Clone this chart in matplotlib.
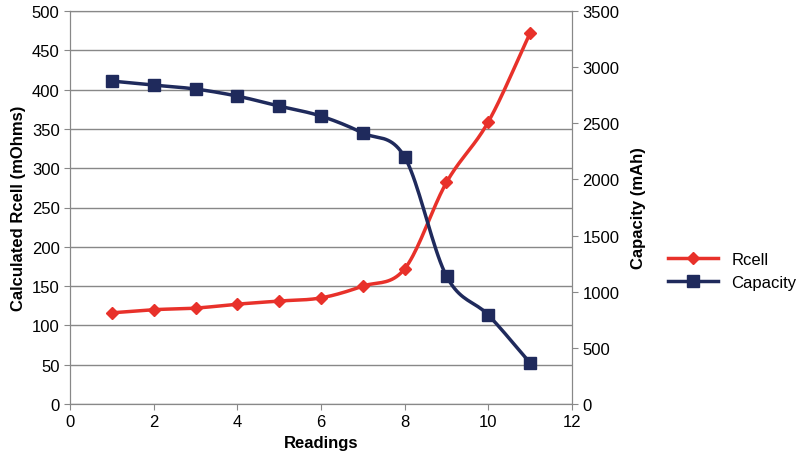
import numpy as np
import matplotlib
matplotlib.use("Agg")
import matplotlib.pyplot as plt
plt.rcParams['font.family'] = ['Liberation Sans', 'DejaVu Sans']

readings = [1, 2, 3, 4, 5, 6, 7, 8, 9, 10, 11]
rcell = [116, 120, 122, 127, 131, 135, 150, 172, 282, 359, 472]
capacity = [2876, 2840, 2805, 2742, 2653, 2564, 2413, 2199, 1139, 792, 365]

def smooth(x, y, n=20):
    x = np.asarray(x, float); y = np.asarray(y, float)
    px = np.concatenate([[2*x[0]-x[1]], x, [2*x[-1]-x[-2]]])
    py = np.concatenate([[2*y[0]-y[1]], y, [2*y[-1]-y[-2]]])
    xs, ys = [], []
    t = np.linspace(0, 1, n, endpoint=False)
    for i in range(1, len(px)-2):
        for P, out in ((px, xs), (py, ys)):
            p0, p1, p2, p3 = P[i-1], P[i], P[i+1], P[i+2]
            out.extend(0.5*((2*p1) + (-p0+p2)*t + (2*p0-5*p1+4*p2-p3)*t**2 + (-p0+3*p1-3*p2+p3)*t**3))
    xs.append(x[-1]); ys.append(y[-1])
    return np.array(xs), np.array(ys)

fig = plt.figure(figsize=(8, 4.64), dpi=100)
ax = fig.add_axes([70/800, 1-405/464, 502/800, 393/464])
ax2 = ax.twinx()
red = "#e8312a"; blue = "#1f2a5c"
sx, sy = smooth(readings, rcell)
ax.plot(sx, sy, color=red, lw=2.5)
ax.plot(readings, rcell, 'D', color=red, ms=6, lw=0)
cx, cy = smooth(readings, capacity)
ax2.plot(cx, cy, color=blue, lw=2.5)
ax2.plot(readings, capacity, 's', color=blue, ms=8, lw=0)

ax.set_xlim(0, 12); ax.set_ylim(0, 500); ax2.set_ylim(0, 3500)
ax.set_xticks(range(0, 13, 2)); ax.set_yticks(range(0, 501, 50)); ax2.set_yticks(range(0, 3501, 500))
ax.yaxis.grid(True, color="#888888", lw=1); ax.set_axisbelow(True)
for a in (ax, ax2):
    a.tick_params(labelsize=12, color="#888888", direction="out", length=4)
    for s in a.spines.values(): s.set_color("#888888")
ax.set_xlabel("Readings", fontsize=12, fontweight="bold")
ax.set_ylabel("Calculated Rcell (mOhms)", fontsize=12, fontweight="bold")
ax2.set_ylabel("Capacity (mAh)", fontsize=12, fontweight="bold", labelpad=8)

from matplotlib.lines import Line2D
h = [Line2D([], [], color=red, lw=2.5, marker='D', ms=6),
     Line2D([], [], color=blue, lw=2.5, marker='s', ms=8)]
fig.legend(h, ["Rcell", "Capacity"], loc="center left", bbox_to_anchor=(668/800, 1-272/464),
           frameon=False, fontsize=12, handlelength=3, borderaxespad=0, borderpad=0)
fig.savefig("out.png", dpi=100)
